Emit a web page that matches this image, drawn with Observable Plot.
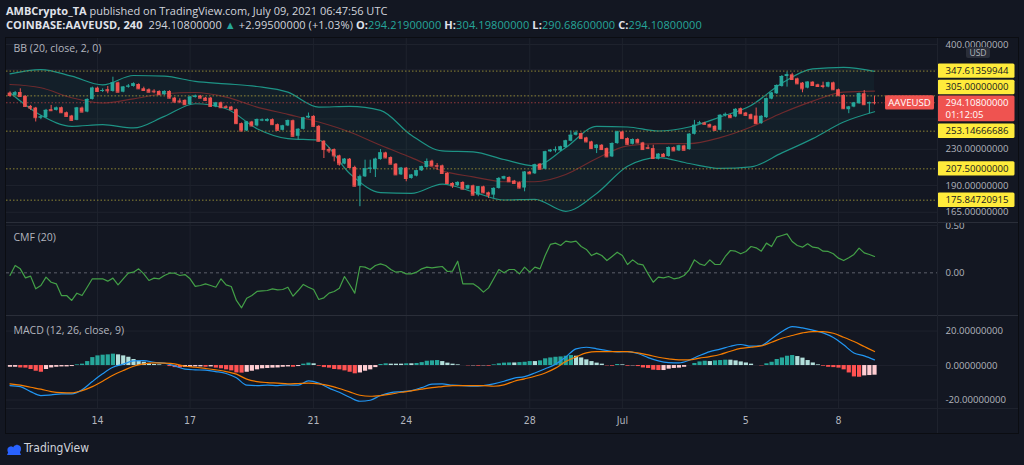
<!DOCTYPE html>
<html><head><meta charset="utf-8">
<script src="https://cdn.jsdelivr.net/npm/d3@7"></script>
<script src="https://cdn.jsdelivr.net/npm/@observablehq/plot@0.6"></script>
<style>
html,body{margin:0;padding:0;background:#131722;}
body{width:1024px;height:465px;overflow:hidden;position:relative;font-family:"Open Sans",sans-serif;color:#d1d4dc;}
.hdr{position:absolute;left:6px;white-space:nowrap;font-size:11px;line-height:15px;}
#h1{top:3px;} #h2{top:17px;letter-spacing:0.1px;}
.hdr b{font-weight:700;color:#e0e3eb;}
.up{color:#26a69a;}
#frame{position:absolute;left:5px;top:37px;width:1014px;height:397px;box-sizing:border-box;border:1px solid #0b0d12;}
.pane{position:absolute;left:6px;}
.hl{position:absolute;left:6px;width:1012px;height:1px;background:#2a2e39;}
#vsep{position:absolute;left:937px;top:38px;width:1px;height:395px;background:#1e222d;}
#usd{position:absolute;left:966px;top:47px;width:24px;height:11px;background:#2a2e39;color:#b2b5be;font-size:8.5px;line-height:11px;text-align:center;border-radius:2px;}
#foot{position:absolute;left:6px;top:440px;height:16px;display:flex;align-items:center;}
#foot span{font-family:"Liberation Sans Narrow","DejaVu Sans Condensed",sans-serif;font-size:12px;color:#d1d4dc;margin-left:2px;}
</style></head>
<body>
<div class="hdr" id="h1"><b>AMBCrypto_TA</b> published on TradingView.com, July 09, 2021 06:47:56 UTC</div>
<div class="hdr" id="h2"><b>COINBASE:AAVEUSD, 240</b>&nbsp; 294.10800000 <span class="up">▲</span> +2.99500000 (+1.03%) <b>O:</b><span class="up">294.21900000</span> <b>H:</b><span class="up">304.19800000</span> <b>L:</b><span class="up">290.68600000</span> <b>C:</b><span class="up">294.10800000</span></div>
<div id="frame"></div>
<div class="pane" id="p1" style="top:38px"></div>
<div class="pane" id="p2" style="top:222px"></div>
<div class="pane" id="p3" style="top:315px"></div>
<div class="hl" style="top:222px"></div>
<div class="hl" style="top:315px"></div>
<div class="hl" style="top:408px;background:#1e222d"></div>
<div id="vsep"></div>
<div id="foot"><svg width="16" height="15" viewBox="0 0 16 15"><path d="M1 14 L5 5 L8 10 L11 3 L15 14 Z" fill="#2962ff"/><circle cx="5" cy="9" r="3.6" fill="#2962ff"/><circle cx="11" cy="8" r="4" fill="#2962ff"/></svg><span>TradingView</span></div>
<script>
// ---- data ----
const opens=[309.5,305.7,310.5,304.1,288.5,286.0,271.4,271.8,283.5,282.5,286.5,279.0,274.2,268.0,286.0,280.0,299.3,317.7,312.7,315.0,312.2,326.7,311.0,320.0,320.5,323.9,316.6,315.0,312.7,312.2,306.8,312.2,301.4,296.8,297.8,291.1,302.5,304.6,301.4,301.4,287.5,294.1,288.0,287.5,283.5,263.4,253.4,265.7,260.2,267.5,266.6,269.0,262.0,254.3,260.2,267.5,246.4,255.6,271.4,273.7,259.7,240.0,229.7,229.7,222.2,212.7,218.3,209.0,189.3,198.9,207.1,206.7,217.9,225.7,220.2,212.7,201.0,208.2,197.2,199.6,205.3,209.0,216.1,211.2,210.8,202.5,192.1,189.7,193.1,186.4,189.7,180.6,188.7,182.8,180.6,187.1,196.5,198.2,194.5,192.8,187.5,203.9,202.1,212.7,207.1,226.9,228.5,228.1,232.1,240.0,247.7,249.9,244.3,239.2,230.9,235.0,230.9,221.0,237.1,252.1,243.4,236.2,242.1,237.9,232.1,230.9,218.3,224.1,221.4,232.1,228.1,234.2,229.7,249.0,263.4,264.3,262.0,259.7,254.3,275.7,275.2,272.8,285.0,278.6,276.2,274.2,263.4,271.8,299.8,308.4,320.5,337.8,340.8,333.7,326.2,317.7,327.9,323.3,321.7,319.4,326.7,315.0,305.7,283.5,287.5,292.6,308.4,292.6,294.219];
const highs=[311.6,312.2,316.6,305.2,290.0,287.0,274.7,284.0,290.0,287.5,287.5,280.0,275.2,287.0,287.5,300.3,319.4,319.4,316.6,320.5,336.6,327.9,320.5,323.9,326.7,325.0,319.4,316.6,315.0,313.3,313.3,313.3,302.5,300.3,298.8,304.1,306.3,305.7,302.5,302.5,294.7,295.2,289.5,288.5,284.5,264.3,266.6,266.6,270.0,270.0,270.4,270.0,262.9,261.1,268.5,268.5,256.5,272.3,278.6,274.7,260.6,240.8,232.1,230.5,223.0,219.1,219.1,210.4,200.7,217.2,217.2,219.5,229.7,226.5,221.0,213.4,209.0,209.0,201.4,206.0,210.4,218.6,217.2,213.4,211.6,203.2,192.8,193.8,193.8,190.4,190.4,189.0,189.3,183.5,187.8,198.2,199.6,198.9,195.2,193.5,204.6,204.6,212.7,213.4,227.7,229.7,232.9,233.8,241.3,253.4,253.4,250.7,245.1,240.0,235.8,235.8,231.7,238.0,253.0,253.0,244.3,243.0,243.0,238.7,235.0,235.0,224.9,224.9,232.9,232.9,235.0,235.0,249.9,268.0,266.6,265.2,262.9,260.6,276.2,278.6,276.2,285.0,286.0,279.5,277.1,286.0,274.7,301.4,310.5,323.3,339.6,345.7,343.8,334.9,327.3,328.5,328.5,324.4,327.9,327.9,327.9,316.1,306.8,288.5,294.7,309.5,313.8,295.2,304.198];
const lows=[303.0,304.1,303.0,287.5,282.5,265.7,269.0,270.9,281.0,281.6,278.0,272.8,267.0,267.5,279.0,279.0,298.3,311.0,310.5,308.4,311.0,310.0,310.0,317.7,319.4,315.6,312.2,310.0,308.4,305.7,305.7,300.3,294.1,292.6,290.0,290.0,301.4,300.3,296.7,287.5,286.5,285.5,285.5,282.5,262.5,252.5,252.5,259.3,258.8,266.2,265.7,261.1,253.4,253.4,259.3,245.5,241.7,254.7,270.4,258.8,239.2,219.1,224.9,215.3,210.4,212.0,208.2,188.7,169.9,198.2,202.5,198.2,217.2,219.1,212.0,200.3,200.3,193.8,196.5,198.9,204.6,208.2,210.0,206.0,201.8,191.4,187.1,189.0,185.8,185.8,180.0,179.1,182.2,177.5,177.5,186.4,195.8,193.1,191.4,186.8,183.8,201.4,201.4,206.4,206.4,226.1,225.7,227.3,231.3,239.2,246.8,242.6,238.3,230.1,224.9,228.9,220.2,220.2,236.2,242.6,235.4,235.4,237.1,228.9,229.7,218.3,217.5,220.6,220.6,227.3,227.3,228.1,228.9,248.1,262.5,261.6,257.9,253.4,253.4,272.8,270.9,271.8,276.6,274.2,269.5,262.5,262.5,270.9,298.8,307.3,319.4,319.4,331.3,323.9,310.0,316.6,321.1,319.4,316.6,318.3,313.8,304.1,284.0,277.6,286.5,291.6,290.0,277.6,290.686];
const closes=[305.7,310.0,304.1,288.5,286.0,271.8,272.8,282.5,282.0,286.0,279.0,273.7,268.0,286.0,280.0,299.3,317.7,312.2,313.8,313.3,326.7,311.0,319.4,321.0,325.0,316.6,313.8,311.0,311.6,306.8,312.2,301.4,295.2,295.7,291.1,303.0,304.6,301.4,297.8,288.5,293.7,286.5,287.0,283.5,263.4,253.4,265.7,260.2,269.0,268.5,269.0,262.0,254.3,260.2,267.5,246.4,255.6,271.4,273.7,259.7,240.0,229.7,228.1,222.2,212.7,218.3,209.0,189.3,198.9,207.5,208.2,218.3,225.7,219.8,212.7,201.0,208.2,197.2,200.7,205.3,209.7,215.7,210.8,210.4,202.5,192.1,189.7,193.1,186.4,189.7,180.6,188.7,182.8,180.6,187.1,197.2,198.9,193.8,192.1,187.5,203.9,202.1,211.9,207.1,226.9,228.9,229.3,232.9,240.4,247.7,250.7,243.4,239.2,230.9,235.0,229.7,221.0,237.1,252.1,243.4,236.2,242.1,237.9,229.7,231.3,219.1,224.1,221.4,232.1,228.1,234.2,228.9,249.0,261.1,264.3,262.5,258.8,254.3,275.2,276.6,271.8,284.0,277.6,275.2,270.4,263.4,273.7,300.3,309.5,322.2,337.8,340.8,332.5,325.0,316.6,327.9,322.2,320.5,320.5,326.7,315.0,305.2,285.0,287.5,293.7,308.4,291.1,294.1,294.108];

// Bollinger Bands (20, close, 2) read every 6 bars
const bbIndex=[0,6,12,18,24,30,36,42,48,54,60,66,72,78,84,90,96,102,108,114,120,126,132,138,144,150,156,162,168];
const bbUpper=[342.6,350.5,338.4,323.3,339.6,338.4,329.1,325.0,320.5,311.0,287.5,288.5,282.5,247.7,228.1,226.9,218.0,210.8,232.1,259.7,258.8,253.4,258.8,272.8,290.0,326.2,351.7,354.6,347.0];
const bbBasis=[323.9,318.3,302.0,293.7,300.3,308.4,310.5,303.0,287.5,276.6,265.7,252.1,235.0,220.2,205.3,198.9,193.8,193.8,201.4,219.1,234.2,237.1,237.1,244.7,258.8,278.6,296.7,311.0,312.7];
const bbLower=[310.0,275.2,259.7,262.0,257.5,273.7,292.6,285.0,256.5,243.4,241.3,202.5,183.0,182.2,191.5,183.8,176.0,176.6,165.8,182.2,210.4,220.2,213.4,207.9,209.7,225.7,243.4,265.7,280.5];

// horizontal level drawings and price axis
const levels=[347.61359944,253.14666686,207.5,175.84720915];
const level305=[305];
const lastPrice=294.108;
const countdown="01:12:05";
const symbol="AAVEUSD";
const priceTicks=[400,230,190,165];
const priceGrid=[165,190,230,270,305,350,400];

// CMF (20)
const cmf=[-0.028,0.078,0.042,-0.053,-0.035,-0.169,-0.134,-0.046,-0.099,-0.116,-0.240,-0.240,-0.292,-0.215,-0.240,-0.152,-0.063,-0.063,-0.063,-0.088,-0.056,-0.127,-0.063,-0.004,0.007,0.042,-0.011,-0.081,-0.056,-0.063,-0.028,-0.004,-0.004,-0.028,-0.018,-0.063,-0.144,-0.134,-0.116,-0.134,-0.152,-0.063,-0.127,-0.144,-0.292,-0.370,-0.268,-0.240,-0.197,-0.190,-0.187,-0.169,-0.180,-0.176,-0.152,-0.247,-0.187,-0.123,-0.152,-0.176,-0.282,-0.264,-0.215,-0.197,-0.162,-0.039,-0.123,-0.215,0.067,0.060,0.035,0.078,0.095,0.078,0.035,0.007,0.014,-0.011,-0.011,0.007,0.042,0.060,0.053,0.060,0.067,0.014,0.018,0.123,-0.116,-0.116,-0.116,-0.152,-0.204,-0.159,-0.063,0.035,0.000,0.035,0.035,-0.011,0.060,0.007,0.060,0.042,0.183,0.300,0.314,0.289,0.335,0.324,0.335,0.278,0.247,0.183,0.208,0.183,0.130,0.173,0.218,0.183,0.088,0.137,0.095,0.085,-0.011,-0.099,-0.046,-0.053,-0.039,-0.063,-0.053,-0.028,0.032,0.137,0.095,0.078,0.137,0.088,0.088,0.173,0.236,0.229,0.201,0.226,0.278,0.264,0.229,0.314,0.278,0.377,0.395,0.412,0.331,0.289,0.271,0.307,0.271,0.264,0.229,0.226,0.201,0.155,0.130,0.159,0.194,0.261,0.211,0.194,0.173];
const cmfTicks=[0.5,0];

// MACD (12, 26, close, 9): lines read every 2 bars, histogram every bar
const macdIndex=d3.range(0,169,2);
const macdLine=[-11.6,-12.2,-15.1,-17.4,-17.0,-16.4,-16.4,-14.1,-9.3,-4.8,-1.0,0.8,2.7,2.9,1.9,1.4,-0.2,-2.1,-2.5,-2.7,-3.5,-4.6,-7.1,-11.4,-11.6,-11.4,-11.6,-11.2,-11.4,-8.9,-10.2,-13.1,-15.5,-18.4,-20.7,-20.1,-17.4,-15.7,-15.1,-14.5,-12.8,-10.8,-10.6,-11.4,-11.6,-12.0,-11.6,-10.6,-9.1,-7.3,-6.4,-4.3,-1.9,0.8,5.0,9.7,10.6,9.7,8.7,7.9,8.1,7.0,4.6,2.7,1.7,1.5,3.1,5.8,8.1,9.5,11.2,12.2,11.2,11.6,15.5,19.7,22.6,21.8,20.5,18.9,16.2,12.0,7.3,5.6,3.3];
const signalLine=[-10.6,-11.4,-12.6,-13.7,-15.1,-15.7,-15.8,-14.5,-12.2,-9.1,-5.6,-2.9,-0.4,1.0,1.5,1.4,1.0,-0.4,-1.0,-1.7,-2.5,-3.5,-5.0,-7.9,-9.3,-9.9,-10.2,-10.6,-10.4,-10.2,-10.6,-11.6,-13.3,-15.3,-17.2,-17.8,-17.4,-16.6,-15.5,-14.7,-13.7,-12.8,-12.2,-11.6,-11.6,-11.6,-11.6,-12.0,-11.2,-9.1,-7.7,-6.2,-4.3,-1.5,2.3,5.0,7.3,8.1,8.1,8.1,8.1,7.3,6.2,4.8,3.9,3.3,3.3,4.3,5.2,6.4,8.3,9.9,10.6,11.4,13.5,15.8,17.4,18.9,19.7,19.7,18.7,16.4,13.9,11.0,8.1];
const histogram=[-1.0,-1.0,-1.4,-1.5,-2.3,-3.3,-3.9,-2.3,-1.4,-1.0,-0.8,-0.8,-0.6,0.4,0.8,2.3,4.6,5.6,6.0,6.2,6.6,6.2,5.6,4.8,3.5,2.5,1.9,1.0,0.6,0.4,0.0,-0.6,-1.2,-1.4,-1.0,-1.0,-0.8,-0.8,-1.0,-0.8,-1.5,-1.9,-2.5,-3.1,-4.3,-4.4,-3.9,-3.3,-2.5,-1.9,-1.7,-1.5,-1.4,-1.0,-0.8,-1.0,-0.6,0.8,1.4,1.0,-0.4,-1.2,-1.5,-2.3,-2.5,-3.1,-3.9,-4.8,-4.3,-3.3,-2.5,-1.2,0.6,1.0,0.8,0.8,0.8,1.0,1.0,1.2,1.7,2.5,2.7,2.9,2.3,1.4,0.8,0.4,0.0,-0.2,-0.2,-0.4,-0.2,-0.4,0.4,1.0,1.4,1.5,1.5,1.7,1.9,2.3,2.3,2.7,3.9,4.4,4.8,5.0,5.4,5.8,5.4,4.4,3.3,2.3,1.4,0.8,-0.2,-0.4,0.6,0.4,-0.4,-0.2,-0.6,-1.4,-1.7,-2.7,-2.9,-2.9,-2.1,-1.7,-1.5,-1.0,0.0,1.2,2.1,2.5,2.3,2.7,2.9,3.1,3.1,2.7,2.1,1.5,0.8,0.0,-0.2,1.0,1.9,3.5,4.4,5.4,5.8,5.2,4.3,2.9,1.5,0.4,-0.4,-1.0,-1.2,-1.5,-2.5,-4.3,-6.6,-6.8,-6.0,-5.8,-5.6];
const macdTicks=[20,0,-20];

// time axis
const tickDates=["2021-06-14","2021-06-17","2021-06-21","2021-06-24","2021-06-28","2021-07-01","2021-07-05","2021-07-08"].map(s=>new Date(s+"T00:00:00Z"));
const tickLabels=["14","17","21","24","28","Jul","5","8"];

// ---- build ----
const T0=Date.UTC(2021,5,11,4), H4=4*3600e3;
const tOf=i=>new Date(T0+i*H4);
const UP="#26a69a", DOWN="#ef5350";
const half=0.36*H4;
const candles=opens.map((o,i)=>({t:tOf(i),o,h:highs[i],l:lows[i],c:closes[i],col:closes[i]>=o?UP:DOWN}));
const bb=bbIndex.map((k,j)=>({t:tOf(k),upper:bbUpper[j],basis:bbBasis[j],lower:bbLower[j]}));
const cmfData=cmf.map((v,i)=>({t:tOf(i),v}));
const macdData=macdIndex.map((k,j)=>({t:tOf(k),m:macdLine[j],s:signalLine[j]}));
const histData=histogram.map((v,i)=>{const p=i>0?histogram[i-1]:v;const col=v>=0?(v>p?"#26a69a":"#b2dfdb"):(v<p?"#ff5252":"#ffcdd2");return {t:tOf(i),v,col};});
const xDomain=[tOf(-0.68),tOf(180.24)];
const W=1012, MR=81;
const common={width:W,marginLeft:0,marginRight:MR,marginTop:0,color:{type:"identity"},
  style:{background:"transparent",overflow:"hidden",fontFamily:"Open Sans"}};
const AX="#b2b5be", GRID="#1e222d";
const axisText=(vals,fmt,extra={})=>Plot.text(vals,{y:d=>d,text:fmt,frameAnchor:"right",textAnchor:"start",dx:8,fill:AX,fontSize:9.6,...extra});

const p1=Plot.plot({...common,height:184,marginBottom:0,
  x:{type:"utc",domain:xDomain,axis:null},
  y:{type:"log",domain:[156.3,412.9],axis:null},
  marks:[
    Plot.ruleY(priceGrid,{stroke:GRID}),
    Plot.ruleX(tickDates,{stroke:GRID}),
    Plot.areaY(bb,{x:"t",y1:"lower",y2:"upper",fill:"#22ab94",fillOpacity:0.06,curve:"monotone-x"}),
    Plot.line(bb,{x:"t",y:"upper",stroke:"#1d9385",strokeWidth:1.2,curve:"monotone-x"}),
    Plot.line(bb,{x:"t",y:"lower",stroke:"#1d9385",strokeWidth:1.2,curve:"monotone-x"}),
    Plot.line(bb,{x:"t",y:"basis",stroke:"#6e2a2d",strokeWidth:1.2,curve:"monotone-x"}),
    Plot.ruleY([...levels,...level305],{stroke:"#8c8434",strokeDasharray:"1.5,2"}),
    Plot.ruleY([lastPrice],{stroke:"#93393c",strokeDasharray:"1.5,2"}),
    Plot.ruleX(candles,{x:"t",y1:"l",y2:"h",stroke:"col",strokeWidth:1}),
    Plot.rect(candles,{x1:d=>new Date(+d.t-half),x2:d=>new Date(+d.t+half),y1:"o",y2:"c",fill:"col"}),
    Plot.ruleY(candles,{y:"c",x1:d=>new Date(+d.t-half),x2:d=>new Date(+d.t+half),stroke:"col"}),
    Plot.text(["BB (20, close, 2, 0)"],{frameAnchor:"top-left",dx:7,dy:10,lineAnchor:"middle",fill:AX,fontSize:10.5}),
    axisText(priceTicks,d=>d.toFixed(8)),
    axisText(levels,d=>d.toFixed(8),{fill:"#131722"}),
    axisText(level305,d=>d.toFixed(8),{fill:"#131722",dy:-8.5}),
    axisText([lastPrice],d=>d.toFixed(8),{fill:"#ffffff"}),
    axisText([lastPrice],()=>countdown,{fill:"#ffffff",dy:12}),
    Plot.text([lastPrice],{y:d=>d,text:()=>symbol,frameAnchor:"right",textAnchor:"middle",dx:-28,fill:"#ffffff",fontSize:9.6})
  ]});

const p2=Plot.plot({...common,height:93,marginBottom:0,
  x:{type:"utc",domain:xDomain,axis:null},
  y:{domain:[-0.451,0.532],axis:null},
  marks:[
    Plot.ruleY([0.5],{stroke:GRID}),
    Plot.ruleX(tickDates,{stroke:GRID}),
    Plot.ruleY([0],{stroke:"#5d606b",strokeDasharray:"3,3"}),
    Plot.line(cmfData,{x:"t",y:"v",stroke:"#43a047",strokeWidth:1.2}),
    Plot.text(["CMF (20)"],{frameAnchor:"top-left",dx:7,dy:15,lineAnchor:"middle",fill:AX,fontSize:10.5}),
    axisText(cmfTicks,d=>d.toFixed(2))
  ]});

const lab=new Map(tickDates.map((d,i)=>[+d,tickLabels[i]]));
const p3=Plot.plot({...common,height:118,marginBottom:25,
  x:{type:"utc",domain:xDomain,ticks:tickDates,tickFormat:d=>lab.get(+d)||"",tickSize:0,tickPadding:8.5,label:null},
  y:{domain:[-24.9,29.0],axis:null},
  style:{...common.style,fontFamily:"'Liberation Sans Narrow','DejaVu Sans Condensed',sans-serif",fontSize:"10.5px",color:AX},
  marks:[
    Plot.ruleY(macdTicks,{stroke:GRID}),
    Plot.ruleX(tickDates,{stroke:GRID}),
    Plot.ruleX(histData,{x:"t",y1:0,y2:"v",stroke:"col",strokeWidth:4.2}),
    Plot.line(macdData,{x:"t",y:"m",stroke:"#2196f3",strokeWidth:1.2,curve:"monotone-x"}),
    Plot.line(macdData,{x:"t",y:"s",stroke:"#f57c00",strokeWidth:1.2,curve:"monotone-x"}),
    Plot.text(["MACD (12, 26, close, 9)"],{frameAnchor:"top-left",dx:7,dy:15,lineAnchor:"middle",fill:AX,fontSize:10.5,fontFamily:"Open Sans"}),
    axisText(macdTicks,d=>d.toFixed(8),{fontFamily:"Open Sans"})
  ]});

document.getElementById("p1").append(p1);
document.getElementById("p2").append(p2);
document.getElementById("p3").append(p3);

// label backgrounds, positioned from each rendered label
function addBoxes(svg,texts,fill,left,top,w,h,useCenter){
  const sb=svg.getBoundingClientRect();
  const ns="http://www.w3.org/2000/svg";
  svg.querySelectorAll("text").forEach(tx=>{
    if(!texts.includes(tx.textContent))return;
    const tb=tx.getBoundingClientRect();
    const cy=(tb.top+tb.bottom)/2-sb.top;
    const ax=useCenter?(tb.left+tb.right)/2-sb.left:tb.left-sb.left;
    const r=document.createElementNS(ns,"rect");
    r.setAttribute("x",ax+left);r.setAttribute("y",cy+top);
    r.setAttribute("width",w);r.setAttribute("height",h);
    r.setAttribute("rx",1.5);r.setAttribute("fill",fill);
    const g=tx.parentNode;
    g.parentNode.insertBefore(r,g);
  });
}
addBoxes(p1,[...levels,...level305].map(d=>d.toFixed(8)),"#ffeb3b",-8,-7.2,77,14.4,false);
addBoxes(p1,[lastPrice.toFixed(8)],"#ef5350",-8,-6.9,77,25.7,false);
addBoxes(p1,[symbol],"#ef5350",-24.5,-7.2,49,14.4,true);
</script>
<div id="usd">USD</div>
</body></html>
